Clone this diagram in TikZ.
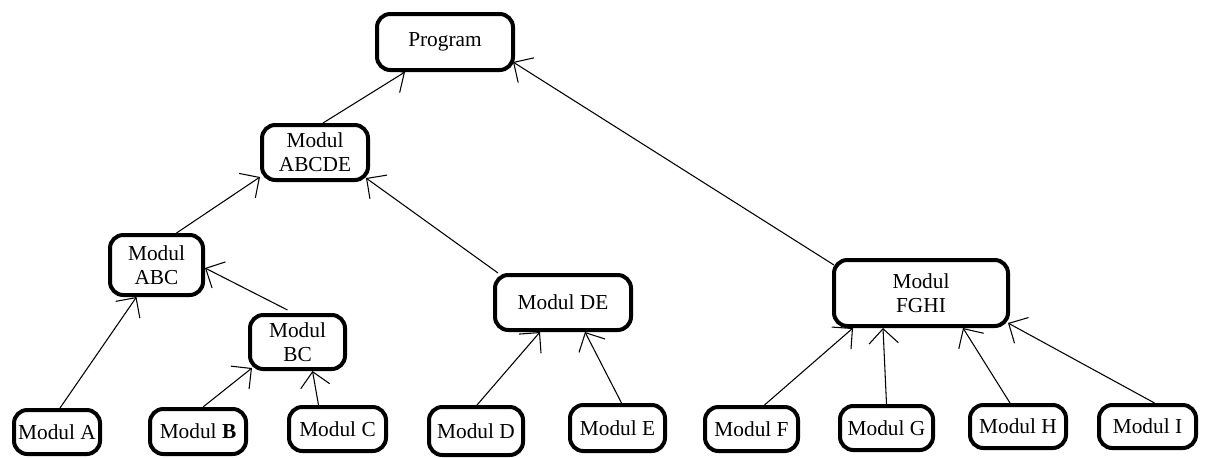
\documentclass[tikz,border=0pt]{standalone}
\usepackage{fontspec}
\setmainfont{Liberation Serif}
\usetikzlibrary{arrows.meta,calc}
\begin{document}
\begin{tikzpicture}[x=0.75pt,y=-0.75pt,
  box/.style={draw, line width=3pt, rounded corners=10pt, inner sep=0pt, align=center,
    font=\fontsize{16}{18}\selectfont},
  arr/.style={line width=0.8pt, -{Straight Barb[length=11pt,width=22pt,line width=0.8pt]}}]
\useasboundingbox (0,0) rectangle (1205,457);
\node[box, minimum width=102pt, minimum height=42pt] (P) at (445,42) {Program};
\node[box, minimum width=79.5pt, minimum height=41.25pt] (ABCDE) at (315,152.5) {Modul\\ABCDE};
\node[box, minimum width=69.75pt, minimum height=45pt] (ABC) at (156.5,265) {Modul\\ABC};
\node[box, minimum width=71.25pt, minimum height=40.5pt] (BC) at (297.5,342) {Modul\\BC};
\node[box, minimum width=102pt, minimum height=41.25pt] (DE) at (563,302.5) {Modul DE};
\node[box, minimum width=130.5pt, minimum height=49.5pt] (FGHI) at (921,293) {Modul\\FGHI};
\node[box, minimum width=64.5pt, minimum height=33pt] (A) at (57,432) {Modul A};
\node[box, minimum width=72pt, minimum height=33.75pt] (B) at (198,431.5) {Modul \textbf{B}};
\node[box, minimum width=72.75pt, minimum height=33pt] (C) at (337.5,429) {Modul C};
\node[box, minimum width=70.5pt, minimum height=36pt] (D) at (476,431) {Modul D};
\node[box, minimum width=71.25pt, minimum height=34.5pt] (E) at (617.5,428) {Modul E};
\node[box, minimum width=69.75pt, minimum height=33pt] (F) at (751.5,429) {Modul F};
\node[box, minimum width=69.75pt, minimum height=33pt] (G) at (886.5,428) {Modul G};
\node[box, minimum width=72pt, minimum height=32.25pt] (H) at (1018,426.5) {Modul H};
\node[box, minimum width=72.75pt, minimum height=32.25pt] (I) at (1147.5,426.5) {Modul I};
% connectors
\draw[arr] ($(ABCDE.north)+(8,0)$) -- ($(P.south)+(-40,0)$);
\draw[arr] ($(FGHI.north west)+(2,7)$) -- ($(P.south east)+(-2,-10)$);
\draw[arr] ($(ABC.north)+(20,0)$) -- ($(ABCDE.south west)+(0,-5)$);
\draw[arr] ($(DE.north west)+(5,0)$) -- ($(ABCDE.south east)+(-4,-4)$);
\draw[arr] ($(A.north)+(3,0)$) -- ($(ABC.south)+(-20,0)$);
\draw[arr] ($(BC.north)+(-10,-3)$) -- ($(ABC.east)+(0,3)$);
\draw[arr] ($(B.north)+(5,0)$) -- ($(BC.south west)+(4,-3)$);
\draw[arr] ($(C.north)+(-19,0)$) -- ($(BC.south)+(15,0)$);
\draw[arr] ($(D.north)+(1,0)$) -- ($(DE.south)+(-23,0)$);
\draw[arr] ($(E.north)+(4,0)$) -- ($(DE.south)+(22,0)$);
\draw[arr] ($(F.north)+(13,0)$) -- ($(FGHI.south)+(-68,0)$);
\draw[arr] ($(G.north)+(0,0)$) -- ($(FGHI.south)+(-38,0)$);
\draw[arr] ($(H.north)+(-8,0)$) -- ($(FGHI.south)+(42,0)$);
\draw[arr] ($(I.north)+(7,0)$) -- ($(FGHI.south east)+(-2,-5)$);
\end{tikzpicture}
\end{document}
